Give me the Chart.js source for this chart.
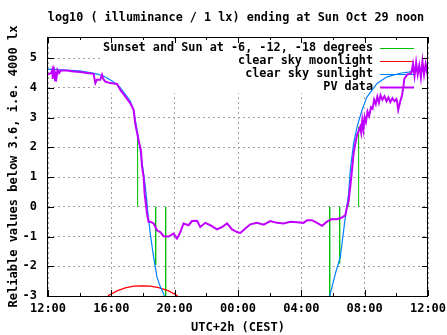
<!DOCTYPE html>
<html>
<head>
<meta charset="utf-8">
<script src="https://cdn.jsdelivr.net/npm/chart.js@4.4.0/dist/chart.umd.min.js"></script>
<style>
  html, body { margin:0; padding:0; background:#fff; }
</style>
</head>
<body>
<canvas id="grafico" width="447" height="335"></canvas>
<script>
// hours after 12:00 (Sat) -> log10(lx)
const pvHours = [0.0,0.1,0.2,0.28,0.3,0.33,0.36,0.4,0.45,0.5,0.55,0.6,0.7,0.8,1.2,1.62,2.04,2.46,2.88,2.99,3.09,3.3,3.41,3.49,3.62,3.93,4.36,4.57,4.88,5.2,5.41,5.51,5.72,5.87,5.94,6.04,6.1,6.25,6.35,6.46,6.67,6.88,7.09,7.3,7.62,7.93,8.15,8.36,8.56,8.88,9.09,9.41,9.62,9.93,10.25,10.67,10.99,11.31,11.62,11.94,12.15,12.46,12.78,13.2,13.62,14.04,14.46,14.88,15.3,15.73,16.14,16.36,16.67,16.99,17.31,17.62,17.94,18.25,18.57,18.78,18.89,18.99,19.09,19.2,19.3,19.41,19.52,19.62,19.72,19.78,19.85,19.92,20.0,20.08,20.18,20.28,20.4,20.5,20.6,20.7,20.8,20.9,21.0,21.12,21.25,21.38,21.5,21.62,21.75,21.88,22.0,22.06,22.12,22.25,22.36,22.45,22.5,22.7,22.85,22.95,23.05,23.15,23.25,23.35,23.45,23.55,23.65,23.75,23.85,23.95,24.0];
const pvLog = [4.45,4.48,4.5,4.62,4.3,4.72,4.35,4.6,4.25,4.55,4.4,4.6,4.5,4.58,4.58,4.55,4.53,4.5,4.47,4.16,4.27,4.27,4.44,4.3,4.21,4.16,4.13,3.93,3.71,3.48,3.26,2.8,2.24,1.9,1.34,1.0,0.45,-0.22,-0.5,-0.5,-0.56,-0.79,-0.85,-0.99,-1.0,-0.9,-1.07,-0.85,-0.56,-0.62,-0.48,-0.47,-0.68,-0.54,-0.62,-0.76,-0.68,-0.56,-0.76,-0.85,-0.88,-0.73,-0.59,-0.54,-0.6,-0.48,-0.54,-0.56,-0.5,-0.52,-0.54,-0.45,-0.45,-0.54,-0.64,-0.5,-0.41,-0.42,-0.36,-0.28,0.0,0.22,0.67,1.23,1.79,2.13,2.41,2.55,2.69,2.5,2.9,2.6,3.0,2.85,3.2,3.05,3.35,3.3,3.6,3.45,3.7,3.5,3.75,3.6,3.72,3.55,3.68,3.52,3.65,3.55,3.62,3.5,3.26,3.55,3.75,4.04,4.3,4.45,4.47,4.5,4.8,4.4,4.85,4.45,4.75,4.35,4.9,4.45,4.8,4.5,4.85,4.45,4.75,4.7];

const sunHours = [0,0.5,1,2,3,3.5,4,4.5,5.0,5.2,5.4,5.62,5.8,5.98,6.15,6.29,6.46,6.67,6.88,7.1,7.3,7.45,12,17.75,17.83,18.15,18.46,18.6,18.78,18.99,19.09,19.3,19.52,19.83,20.15,20.78,21.41,22.25,22.88,23.5,24];
const sunLog = [4.62,4.62,4.6,4.57,4.48,4.4,4.25,4.05,3.7,3.55,3.25,2.6,2.0,1.34,0.67,-0.11,-0.9,-1.69,-2.36,-2.7,-2.92,-3.2,null,-3.2,-2.92,-2.25,-1.69,-1.1,-0.34,0.45,1.23,2.13,2.69,3.25,3.7,4.15,4.37,4.49,4.54,4.58,4.6];

const moonHours = [3.7,3.83,4.36,4.88,5.41,6.0,6.46,6.99,7.62,8.15,8.3];
const moonLog = [-3.1,-2.98,-2.83,-2.73,-2.67,-2.66,-2.67,-2.72,-2.83,-2.98,-3.1];

// sunset, -6, -12, -18 (evening) and -18, -12, -6, sunrise (morning)
const eventHours = [5.66,6.23,6.8,7.43,17.79,18.42,18.99,19.62];
const eventTops = [2.45,0.3,-1.95,-3.5,-3.5,-1.9,0.45,2.69];

const xTickLabels = ['12:00','16:00','20:00','00:00','04:00','08:00','12:00'];
const seriesNames = ['Sunset and Sun at -6, -12, -18 degrees','clear sky moonlight','clear sky sunlight','PV data'];
const chartTitle = 'log10 ( illuminance / 1 lx) ending at Sun Oct 29 noon';

const FONT = "'DejaVu Sans Mono', 'Liberation Mono', monospace";
Chart.defaults.font.family = FONT;
Chart.defaults.font.size = 12;
Chart.defaults.font.weight = 'bold';
Chart.defaults.color = '#000';

function juntar(xs, ys) {
  return xs.map((x, i) => ({x: x, y: ys[i]}));
}
let eventPoints = [];
for (let i = 0; i < eventHours.length; i++) {
  eventPoints.push({x: eventHours[i], y: 0});
  eventPoints.push({x: eventHours[i], y: eventTops[i]});
  eventPoints.push({x: eventHours[i], y: null});
}

const colores = ['#00c000', '#ff0000', '#0080ff', '#c000ff'];

const marco = {
  id: 'marco',
  beforeDatasetsDraw(chart) {
    const ctx = chart.ctx;
    // key box hides the grid behind it
    ctx.save();
    ctx.fillStyle = '#fff';
    ctx.fillRect(100, 39, 327, 54);
    ctx.font = 'bold 11.8px ' + FONT;
    ctx.textAlign = 'right';
    ctx.textBaseline = 'middle';
    for (let i = 0; i < seriesNames.length; i++) {
      const y = 47.5 + i * 13.1;
      ctx.fillStyle = '#000';
      ctx.fillText(seriesNames[i], 373, y);
      ctx.strokeStyle = colores[i];
      ctx.lineWidth = i == 3 ? 2 : 1;
      ctx.beginPath();
      ctx.moveTo(380, Math.round(y) + 0.5);
      ctx.lineTo(414, Math.round(y) + 0.5);
      ctx.stroke();
    }
    ctx.restore();
  },
  afterDatasetsDraw(chart) {
    const ctx = chart.ctx;
    const a = chart.chartArea;
    const xs = chart.scales.x, ys = chart.scales.y;
    ctx.save();
    ctx.strokeStyle = '#000';
    ctx.lineWidth = 1;
    ctx.beginPath();
    for (let h = 0; h <= 24; h += 2) {
      const px = Math.round(xs.getPixelForValue(h)) + 0.5;
      const len = h % 4 == 0 ? 6 : 3;
      ctx.moveTo(px, a.bottom); ctx.lineTo(px, a.bottom - len);
      ctx.moveTo(px, a.top); ctx.lineTo(px, a.top + len);
    }
    for (let v = -3; v <= 5; v++) {
      const py = Math.round(ys.getPixelForValue(v)) + 0.5;
      ctx.moveTo(a.left, py); ctx.lineTo(a.left + 6, py);
      ctx.moveTo(a.right, py); ctx.lineTo(a.right - 6, py);
    }
    ctx.stroke();
    ctx.strokeRect(a.left - 0.5, a.top + 0.5, a.right - a.left, a.bottom - a.top);
    ctx.restore();
  },
  afterDraw(chart) {
    const ctx = chart.ctx;
    const a = chart.chartArea;
    ctx.save();
    ctx.font = 'bold 11.8px ' + FONT;
    ctx.fillStyle = '#000';
    ctx.textAlign = 'center';
    ctx.textBaseline = 'middle';
    ctx.fillText(chartTitle, (a.left + a.right) / 2 - 2, 18);
    ctx.restore();
  }
};

const ctx = document.getElementById('grafico').getContext('2d');
const myChart = new Chart(ctx, {
  type: 'line',
  data: {
    datasets: [
      {label: seriesNames[0], data: eventPoints, borderColor: colores[0], borderWidth: 1, order: 4},
      {label: seriesNames[1], data: juntar(moonHours, moonLog), borderColor: colores[1], borderWidth: 1.3, order: 3},
      {label: seriesNames[2], data: juntar(sunHours, sunLog), borderColor: colores[2], borderWidth: 1.2, order: 2},
      {label: seriesNames[3], data: juntar(pvHours, pvLog), borderColor: colores[3], borderWidth: 2, order: 1}
    ]
  },
  options: {
    responsive: false,
    animation: false,
    devicePixelRatio: 1,
    events: [],
    spanGaps: false,
    elements: {point: {radius: 0}, line: {tension: 0}},
    layout: {padding: {left: 0, right: 19, top: 37, bottom: 0}},
    plugins: {legend: {display: false}, tooltip: {enabled: false}, title: {display: false}},
    scales: {
      x: {
        type: 'linear',
        min: 0,
        max: 24,
        afterFit(scale) { scale.height = 39; },
        ticks: {
          stepSize: 4,
          maxRotation: 0,
          autoSkip: false,
          padding: 0,
          font: {lineHeight: 2.2},
          callback: (v) => xTickLabels[Math.round(v / 4)]
        },
        grid: {color: '#a0a0a0', drawTicks: false},
        border: {display: false, dash: [2, 3]},
        title: {display: true, text: 'UTC+2h (CEST)', padding: {top: 0, bottom: 0}}
      },
      y: {
        min: -3,
        max: 5.71,
        afterFit(scale) { scale.width = 48; },
        ticks: {stepSize: 1, includeBounds: false, padding: 11},
        grid: {color: '#a0a0a0', drawTicks: false},
        border: {display: false, dash: [2, 3]},
        title: {display: true, text: 'Reliable values below 3.6, i.e. 4000 lx', padding: {top: 7, bottom: 0}}
      }
    }
  },
  plugins: [marco]
});
</script>
</body>
</html>
